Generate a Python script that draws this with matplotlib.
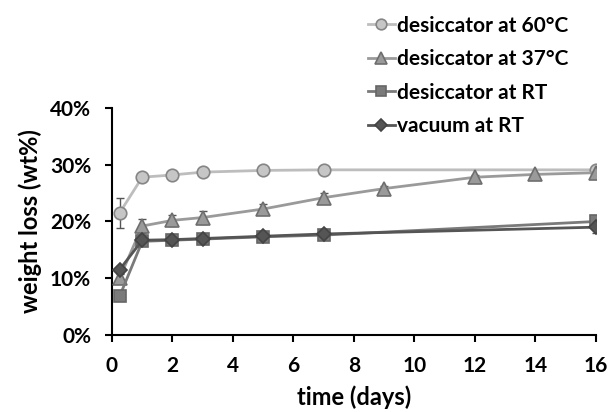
import matplotlib.pyplot as plt
from matplotlib.ticker import PercentFormatter

plt.rcParams['font.family'] = ['Lato', 'DejaVu Sans']
plt.rcParams['font.weight'] = 'bold'

# data (weight loss, %)
t_60 = [0.25, 1, 2, 3, 5, 7, 16]
loss_60 = [21.5, 27.8, 28.2, 28.7, 29.0, 29.1, 29.1]
err_60 = [2.6, 0.5, 0.4, 0.3, 0.3, 0.3, 0.3]

t_37 = [0.25, 1, 2, 3, 5, 7, 9, 12, 14, 16]
loss_37 = [10.0, 19.2, 20.2, 20.7, 22.2, 24.2, 25.8, 27.8, 28.3, 28.6]
err_37 = [0.8, 1.3, 1.0, 1.2, 0.9, 0.8, 0.4, 0.4, 0.3, 0.4]

t_rt = [0.25, 1, 2, 3, 5, 7, 16]
loss_rt = [6.8, 16.5, 16.7, 16.9, 17.3, 17.6, 20.0]
err_rt = [0.4, 0.5, 0.4, 0.4, 0.5, 0.6, 0.4]

t_vac = [0.25, 1, 2, 3, 5, 7, 16]
loss_vac = [11.5, 16.7, 16.8, 17.0, 17.4, 17.8, 19.0]
err_vac = [0.6, 0.6, 0.4, 0.4, 0.8, 0.9, 1.0]

labels = ['desiccator at 60°C', 'desiccator at 37°C', 'desiccator at RT', 'vacuum at RT']

fig = plt.figure(figsize=(6.1, 4.12), dpi=100)
ax = fig.add_axes([0.1836, 0.1869, 0.7934, 0.551])

series = [
    (t_60, loss_60, err_60, 'o', '#c6c6c6', '#858585', '#bdbdbd', 9),
    (t_37, loss_37, err_37, '^', '#9a9a9a', '#6e6e6e', '#9a9a9a', 9.5),
    (t_rt, loss_rt, err_rt, 's', '#7a7a7a', '#666666', '#7a7a7a', 9),
    (t_vac, loss_vac, err_vac, 'D', '#555555', '#444444', '#555555', 7),
]
handles = []
for (t, y, e, m, fc, ec, lc, ms), lab in zip(series, labels):
    ax.errorbar(t, y, yerr=e, fmt='none', ecolor='#555555', elinewidth=1, capsize=3, zorder=2)
    h, = ax.plot(t, y, marker=m, color=lc, mfc=fc, mec=ec, mew=1.2, ms=ms, lw=2, label=lab, zorder=3)
    handles.append(h)

ax.set_xlim(0, 16)
ax.set_ylim(0, 40)
ax.set_xticks(range(0, 17, 2))
ax.set_yticks([0, 10, 20, 30, 40])
ax.yaxis.set_major_formatter(PercentFormatter(decimals=0))
for s in ['top', 'right']:
    ax.spines[s].set_visible(False)
for s in ['left', 'bottom']:
    ax.spines[s].set_linewidth(1.5)
ax.tick_params(direction='out', width=1.5, length=5, labelsize=15, pad=10)
ax.set_xlabel('time (days)', fontsize=17, fontweight='bold', labelpad=7)
ax.set_ylabel('weight loss (wt%)', fontsize=17, fontweight='bold', labelpad=6)

fig.legend(handles=handles, loc='upper left', bbox_to_anchor=(0.603, 0.962), frameon=False,
           borderpad=0, borderaxespad=0, fontsize=15, handlelength=1.3,
           handletextpad=0.12, labelspacing=0.65, markerscale=0.85)

fig.savefig('out.png', dpi=100)
